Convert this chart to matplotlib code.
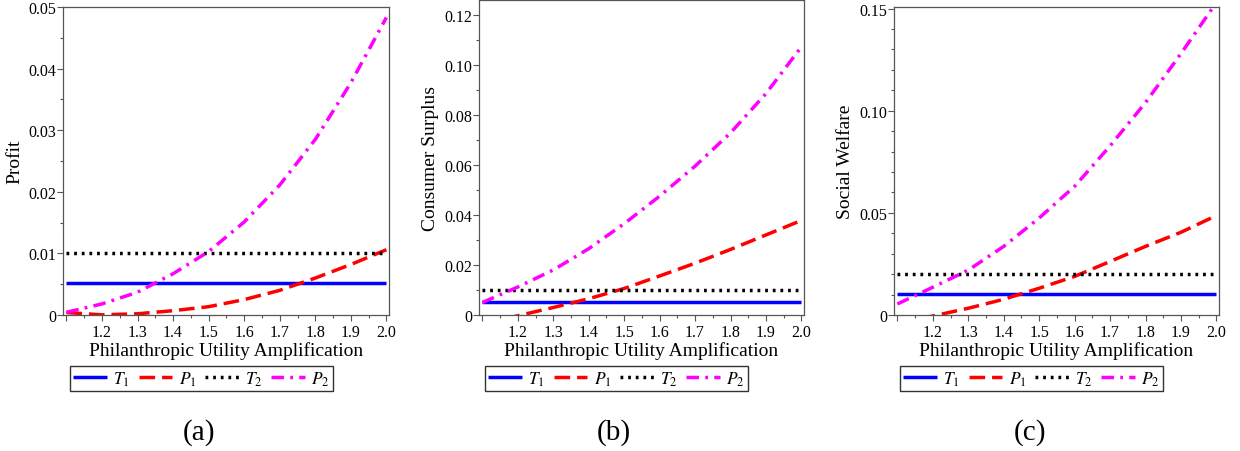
import matplotlib
matplotlib.use("Agg")
import matplotlib.pyplot as plt
from matplotlib.ticker import MultipleLocator, FixedLocator, FixedFormatter

plt.rcParams['font.family'] = ['Liberation Serif', 'DejaVu Serif']
plt.rcParams['mathtext.fontset'] = 'stix'

# ---- data ----
x = [1.1, 1.2, 1.3, 1.4, 1.5, 1.6, 1.7, 1.8, 1.9, 2.0]

profit_T1 = [0.0052] * 10
profit_P1 = [0.0004, 0.00003, 0.0002, 0.0007, 0.00135, 0.0025, 0.004, 0.006, 0.0082, 0.0106]
profit_T2 = [0.010] * 10
profit_P2 = [0.00044, 0.0018, 0.0037, 0.0067, 0.0103, 0.0151, 0.0211, 0.0285, 0.0377, 0.0483]

cs_T1 = [0.005] * 10
cs_P1 = [-0.0035, -0.0003, 0.003, 0.0065, 0.0106, 0.0156, 0.0207, 0.0262, 0.032, 0.0378]
cs_T2 = [0.010] * 10
cs_P2 = [0.005, 0.0112, 0.018, 0.0265, 0.0365, 0.0475, 0.0595, 0.0728, 0.0885, 0.1072]

sw_T1 = [0.0102] * 10
sw_P1 = [-0.0035, -0.0005, 0.0033, 0.0077, 0.0131, 0.0189, 0.0262, 0.0336, 0.0405, 0.0487]
sw_T2 = [0.020] * 10
sw_P2 = [0.0054, 0.0136, 0.022, 0.0336, 0.0475, 0.063, 0.0828, 0.104, 0.128, 0.153]

series_labels = [r'$T_1$', r'$P_1$', r'$T_2$', r'$P_2$']
ylabels = ['Profit', 'Consumer Surplus', 'Social Welfare']
captions = ['(a)', '(b)', '(c)']
xtick_values = [1.1, 1.2, 1.3, 1.4, 1.5, 1.6, 1.7, 1.8, 1.9, 2.0]
xtick_labels = ['', '1.2', '1.3', '1.4', '1.5', '1.6', '1.7', '1.8', '1.9', '2.0']
ytick_values = [[0, 0.01, 0.02, 0.03, 0.04, 0.05],
                [0, 0.02, 0.04, 0.06, 0.08, 0.10, 0.12],
                [0, 0.05, 0.10, 0.15]]
ytick_labels = [['0', '0.01', '0.02', '0.03', '0.04', '0.05'],
                ['0', '0.02', '0.04', '0.06', '0.08', '0.10', '0.12'],
                ['0', '0.05', '0.10', '0.15']]

panels = [
    (profit_T1, profit_P1, profit_T2, profit_P2),
    (cs_T1, cs_P1, cs_T2, cs_P2),
    (sw_T1, sw_P1, sw_T2, sw_P2),
]

# ---- layout / style ----
W, H = 1240, 452
fig = plt.figure(figsize=(W / 100, H / 100), dpi=100)

axes_px = [(63, 8, 389, 316), (479, 1, 804, 316), (894, 8, 1219, 316)]
ylims = [(0, 0.05), (0, 0.1259), (0, 0.1508)]
yminor = [0.005, 0.01, 0.01]
legend_px = [(70, 367), (485, 367), (900, 367)]
caption_x = [199, 614, 1030]

styles = [
    dict(color='#0000ff', linestyle='-'),
    dict(color='#ff0000', linestyle=(0, (4.5, 2.0))),
    dict(color='black', linestyle=(0, (0.8, 1.4))),
    dict(color='#ff00ff', linestyle=(0, (3.6, 1.8, 0.8, 1.8))),
]
spine_col = '#555555'

for i, data in enumerate(panels):
    l, t, r, b = axes_px[i]
    ax = fig.add_axes([l / W, (H - b) / H, (r - l) / W, (b - t) / H])
    for s, st, lab in zip(data, styles, series_labels):
        ax.plot(x, s, linewidth=2.5, dash_capstyle='butt', solid_capstyle='butt',
                label=lab, **st)
    ax.set_xlim(1.0904, 2.0073)
    ax.set_ylim(*ylims[i])
    ax.xaxis.set_major_locator(FixedLocator(xtick_values))
    ax.xaxis.set_major_formatter(FixedFormatter(xtick_labels))
    ax.xaxis.set_minor_locator(MultipleLocator(0.05))
    ax.yaxis.set_major_locator(FixedLocator(ytick_values[i]))
    ax.yaxis.set_major_formatter(FixedFormatter(ytick_labels[i]))
    ax.yaxis.set_minor_locator(MultipleLocator(yminor[i]))
    ax.tick_params(which='both', direction='out', color=spine_col, width=0.8,
                   labelsize=11.5, top=False, right=False)
    ax.tick_params(axis='x', which='major', length=4, pad=2.5)
    ax.tick_params(axis='y', which='major', length=4, pad=1)
    ax.tick_params(which='minor', length=2.5)
    for sp in ax.spines.values():
        sp.set_color(spine_col)
        sp.set_linewidth(0.9)
    ax.set_xlabel('Philanthropic Utility Amplification', fontsize=14)
    ax.xaxis.label.set_verticalalignment('top')
    ax.xaxis.set_label_coords(0.5, -(342 - b) / (b - t))
    ax.set_ylabel(ylabels[i], fontsize=14)
    ax.yaxis.set_label_coords(-0.123, 0.5)

    lx, ly = legend_px[i]
    leg = ax.legend(loc='upper left', bbox_to_anchor=(lx / W, (H - ly) / H),
                    bbox_transform=fig.transFigure, borderaxespad=0, ncol=4,
                    fontsize=12.5, handlelength=1.95, handletextpad=0.35,
                    columnspacing=0.5, borderpad=0.2, frameon=True, fancybox=False)
    leg.get_frame().set_edgecolor('black')
    leg.get_frame().set_linewidth(1.0)

    fig.text(caption_x[i] / W, (H - 433) / H, captions[i], ha='center', va='center',
             fontsize=21)

fig.savefig('out.png', dpi=100)
